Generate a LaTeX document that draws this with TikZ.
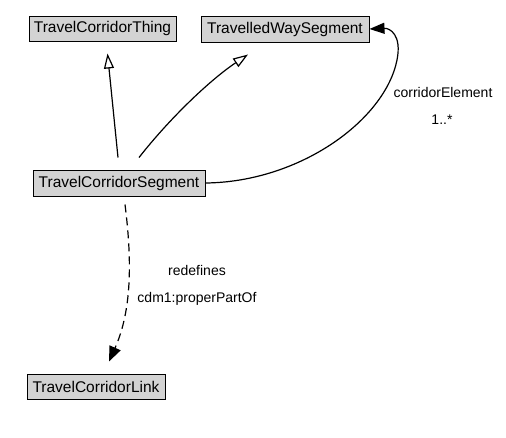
\documentclass[tikz,border=0pt]{standalone}
\usepackage{fontspec}
\setmainfont{Liberation Sans}
\usetikzlibrary{arrows.meta,calc}
\definecolor{boxgray}{HTML}{D3D3D3}
\tikzset{
  cls/.style={draw=black, line width=1pt, fill=boxgray, inner sep=0pt, font=\fontsize{15.5}{18}\selectfont, anchor=center},
  lbl/.style={inner sep=0pt, font=\fontsize{14}{16}\selectfont, anchor=center},
  gen/.style={line width=1.2pt, -{Triangle[open, length=15pt, width=10pt, line width=1.2pt]}},
  assoc/.style={line width=1.2pt, -{Triangle[length=15pt, width=11pt]}},
  dep/.style={line width=1.2pt, dash pattern=on 8pt off 5pt, -{Triangle[length=15pt, width=12pt]}}
}
\begin{document}
\begin{tikzpicture}[x=1pt, y=-1pt]
\useasboundingbox (0,0) rectangle (506,437);
\node[cls, minimum width=147pt, minimum height=25pt] (tct) at (102.5,28.5) {TravelCorridorThing};
\node[cls, minimum width=168pt, minimum height=26pt] (tws) at (285,29) {TravelledWaySegment};
\node[cls, minimum width=172pt, minimum height=26pt] (tcs) at (119,183) {TravelCorridorSegment};
\node[cls, minimum width=138pt, minimum height=25pt] (tcl) at (96,386.5) {TravelCorridorLink};

\coordinate (g1s) at ($(tcs.north)+(-1,-12)$);
\coordinate (g1e) at ($(tct.south)+(5,12)$);
\coordinate (g2s) at ($(tcs.north)+(20,-12)$);
\coordinate (g2e) at ($(tws.south)+(-37,12)$);
\coordinate (d1s) at ($(tcs.south)+(6,8)$);
\coordinate (d1e) at ($(tcl.north)+(13,-12)$);

\draw[gen] (g1s) -- (g1e);
\draw[gen] (g2s) .. controls (170,118) and (210,80) .. (g2e);
\draw[assoc] (tcs.east) .. controls (300,182) and (385,120) .. (397,60) .. controls (402,35) and (390,28) .. (tws.east);
\draw[dep] (d1s) .. controls (132,260) and (132,310) .. (d1e);

\node[lbl] (l1) at (443,92) {corridorElement};
\node[lbl] (l2) at (442,120) {1..*};
\node[lbl] (l3) at (197,270) {redefines};
\node[lbl] (l4) at (197,299) {cdm1:properPartOf};
\end{tikzpicture}
\end{document}
